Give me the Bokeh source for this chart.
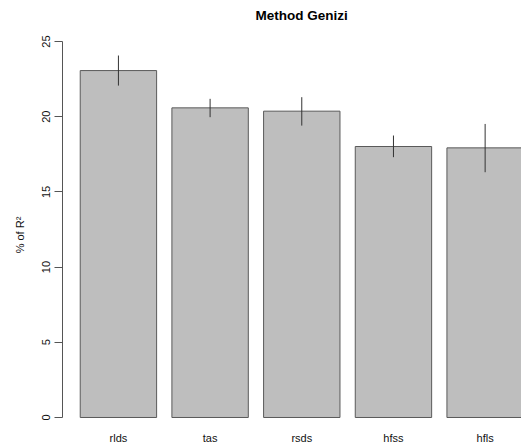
from bokeh.plotting import figure
from bokeh.models import Range1d, FixedTicker, ColumnDataSource
from bokeh.core.properties import value
from bokeh.embed import file_html
from bokeh.resources import INLINE

categories = ["rlds", "tas", "rsds", "hfss", "hfls"]
values = [23.07, 20.59, 20.37, 18.02, 17.93]
err_low = [22.07, 19.97, 19.41, 17.31, 16.31]
err_high = [24.07, 21.19, 21.30, 18.75, 19.52]
y_ticks = [0, 5, 10, 15, 20, 25]

# R barplot layout: width 1, space 0.2
centers = [0.7 + 1.2 * i for i in range(len(categories))]

src = ColumnDataSource(dict(x=centers, top=values, lo=err_low, hi=err_high, name=categories))

p = figure(width=521, height=443, output_backend="svg", toolbar_location=None,
           x_range=Range1d(-0.032, 5.976), y_range=Range1d(-1.729, 26.0),
           min_border_left=62, min_border_right=0, min_border_top=26, min_border_bottom=0)
p.outline_line_color = None
p.xgrid.visible = False
p.ygrid.visible = False
p.xaxis.visible = False
p.background_fill_color = "white"
p.border_fill_color = "white"

p.vbar(x="x", top="top", bottom=0, width=1.0, source=src,
       fill_color="#bebebe", line_color="#5a5a5a", line_width=1)
p.segment(x0="x", x1="x", y0="lo", y1="hi", source=src, line_color="#333333", line_width=1)

# category names below the bars (R barplot names.arg)
p.text(x="x", y=0, text="name", source=src, y_offset=21,
       text_align="center", text_baseline="middle",
       text_font=value("Liberation Sans"), text_font_size="11px", text_color="#111111")

p.title.text = "Method Genizi"
p.title.align = "left"
p.title.offset = 193
p.title.text_font = "Liberation Sans"
p.title.text_font_size = "13.5px"
p.title.text_font_style = "bold"
p.title.text_color = "black"
p.title.standoff = 8

ya = p.yaxis[0]
ya.ticker = FixedTicker(ticks=y_ticks)
ya.bounds = (0, 25)
ya.major_label_orientation = "vertical"
ya.major_tick_in = 0
ya.major_tick_out = 8
ya.minor_tick_line_color = None
ya.axis_line_color = "#555555"
ya.major_tick_line_color = "#555555"
ya.major_label_text_font = "Liberation Sans"
ya.major_label_text_font_size = "11px"
ya.major_label_text_color = "#111111"
ya.major_label_standoff = 4
ya.axis_label = "% of R²"
ya.axis_label_text_font = "Liberation Sans"
ya.axis_label_text_font_size = "11px"
ya.axis_label_text_font_style = "normal"
ya.axis_label_text_color = "#111111"
ya.axis_label_standoff = 14

open("out.html", "w").write(file_html(p, INLINE))
